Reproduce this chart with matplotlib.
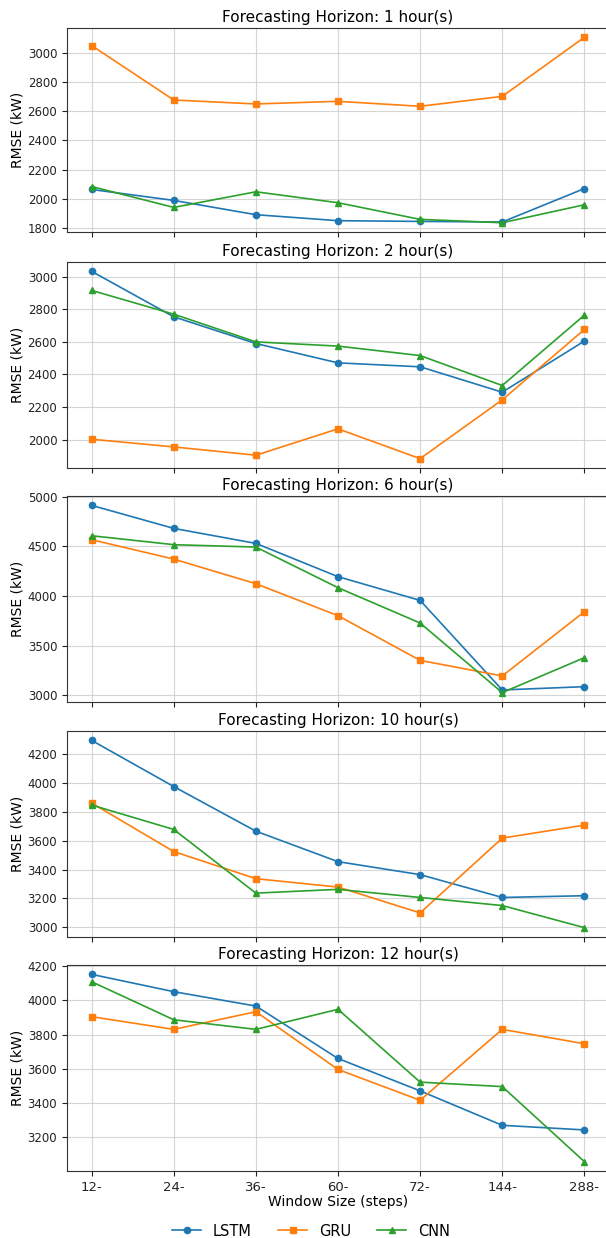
import matplotlib
matplotlib.use("Agg")
import matplotlib.pyplot as plt
from matplotlib.ticker import MultipleLocator

window_labels = ["12-", "24-", "36-", "60-", "72-", "144-", "288-"]
horizons = [1, 2, 6, 10, 12]
ytick_steps = [200, 200, 500, 200, 200]

lstm_1h = [2064, 1989, 1891, 1850, 1845, 1841, 2070]
gru_1h = [3050, 2677, 2650, 2668, 2634, 2702, 3107]
cnn_1h = [2084, 1941, 2048, 1973, 1859, 1836, 1959]

lstm_2h = [3033, 2754, 2590, 2471, 2447, 2291, 2605]
gru_2h = [2002, 1955, 1904, 2066, 1883, 2244, 2676]
cnn_2h = [2916, 2770, 2600, 2574, 2516, 2332, 2764]

lstm_6h = [4913, 4681, 4530, 4195, 3956, 3054, 3087]
gru_6h = [4567, 4372, 4124, 3802, 3352, 3195, 3842]
cnn_6h = [4607, 4517, 4493, 4084, 3728, 3027, 3379]

lstm_10h = [4295, 3975, 3666, 3455, 3365, 3207, 3219]
gru_10h = [3861, 3525, 3337, 3279, 3100, 3618, 3708]
cnn_10h = [3847, 3678, 3237, 3263, 3207, 3151, 2998]

lstm_12h = [4151, 4050, 3966, 3660, 3471, 3270, 3243]
gru_12h = [3904, 3830, 3933, 3596, 3416, 3830, 3746]
cnn_12h = [4108, 3886, 3830, 3947, 3522, 3496, 3058]

lstm = [lstm_1h, lstm_2h, lstm_6h, lstm_10h, lstm_12h]
gru = [gru_1h, gru_2h, gru_6h, gru_10h, gru_12h]
cnn = [cnn_1h, cnn_2h, cnn_6h, cnn_10h, cnn_12h]

W, H = 606, 1238
fig = plt.figure(figsize=(W / 100, H / 100), dpi=100)

# panel top/bottom edges in pixels
tops = [28, 262, 496, 731, 965]
bottoms = [232, 468, 702, 937, 1171]
left_px, right_px = 67, 609

x = list(range(len(window_labels)))
axes = []
for i, h in enumerate(horizons):
    ax = fig.add_axes([left_px / W, 1 - bottoms[i] / H,
                       (right_px - left_px) / W, (bottoms[i] - tops[i]) / H])
    axes.append(ax)
    ax.plot(x, lstm[i], marker="o", color="#1f77b4", lw=1.2, ms=4.5, label="LSTM")
    ax.plot(x, gru[i], marker="s", color="#ff7f0e", lw=1.2, ms=4.5, label="GRU")
    ax.plot(x, cnn[i], marker="^", color="#2ca02c", lw=1.2, ms=4.5, label="CNN")
    ax.set_title(f"Forecasting Horizon: {h} hour(s)", fontsize=11, pad=4)
    ax.set_ylabel("RMSE (kW)", fontsize=10, labelpad=2)
    ax.yaxis.set_major_locator(MultipleLocator(ytick_steps[i]))
    ax.grid(True, color="#cccccc", lw=0.8, alpha=0.8)
    ax.set_xticks(x)
    ax.tick_params(labelsize=8.5, colors="#222222")
    for s in ax.spines.values():
        s.set_color("#333333")
    if i < len(horizons) - 1:
        ax.set_xticklabels([])
    else:
        ax.set_xticklabels(window_labels)
        ax.tick_params(axis="x", labelsize=9.5)
        ax.set_xlabel("Window Size (steps)", fontsize=10, labelpad=1)

handles, labels = axes[0].get_legend_handles_labels()
fig.legend(handles, labels, loc="center", bbox_to_anchor=(311 / W, 1 - 1231 / H),
           ncol=3, frameon=False, fontsize=10.5, columnspacing=1.8,
           handletextpad=0.8, handlelength=2.0)

fig.savefig("out.png", dpi=100)
